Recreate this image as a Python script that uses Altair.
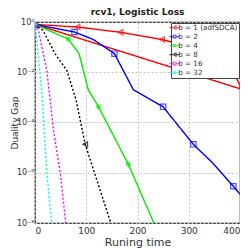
import altair as alt
import pandas as pd

series = ["b = 1 (adfSDCA)", "b = 2", "b = 4", "b = 8", "b = 16", "b = 32"]
colors = ["#ff0000", "#0000ff", "#00ee00", "#000000", "#ff00ff", "#00ffff"]
dashes = [[1, 0], [1, 0], [1, 0], [2, 2], [2, 2], [2, 2]]

# line data (time, gap) per series, in drawing order
x1 = [0, 83, 167, 248, 330, 380, 400, 400, 0]
y1 = [0.8, 0.63, 0.39, 0.2, 0.075, 0.019, 0.003, 0.0022, 0.8]
x2 = [0, 77, 114, 155, 192, 250, 309, 348, 387, 400]
y2 = [0.8, 0.4, 0.2, 0.055, 0.002, 4.2e-4, 1.35e-5, 2.3e-6, 2.9e-7, 1.4e-7]
x4 = [0, 65, 86, 104, 124, 182, 232]
y4 = [0.8, 0.21, 0.055, 0.002, 4.2e-4, 2.2e-6, 1e-8]
x8 = [0, 16, 39, 62, 80, 98, 148]
y8 = [0.8, 0.45, 0.055, 0.012, 8e-4, 1.35e-5, 1e-8]
x16 = [0, 6.5, 23, 36, 49, 60]
y16 = [0.8, 0.47, 0.012, 5e-5, 1.1e-6, 1e-8]
x32 = [0, 3, 13, 23, 32.5]
y32 = [0.8, 0.25, 0.0019, 1.1e-6, 1e-8]

# marker positions
mx1 = [0, 83, 167, 248]
my1 = [0.8, 0.63, 0.39, 0.2]
mx2 = [0, 77, 155, 250, 309, 387]
my2 = [0.8, 0.4, 0.055, 4.2e-4, 1.35e-5, 2.9e-7]
mx4 = [0, 65, 124, 182]
my4 = [0.8, 0.21, 4.2e-4, 2.2e-6]
mx8 = [0, 98]
my8 = [0.8, 1.35e-5]
mx16 = [0]
my16 = [0.8]
mx32 = [0]
my32 = [0.8]

lines = [(x1, y1), (x2, y2), (x4, y4), (x8, y8), (x16, y16), (x32, y32)]
marks = [(mx1, my1), (mx2, my2), (mx4, my4), (mx8, my8), (mx16, my16), (mx32, my32)]

rows = []
for s, (xs_, ys_) in zip(series, lines):
    for i, (a, b) in enumerate(zip(xs_, ys_)):
        rows.append({"s": s, "t": a, "g": b, "i": i})
ldf = pd.DataFrame(rows)
mrows = []
for s, (xs_, ys_) in zip(series, marks):
    for a, b in zip(xs_, ys_):
        mrows.append({"s": s, "t": a, "g": b})
mdf = pd.DataFrame(mrows)
legdf = pd.DataFrame({"s": series, "t": [-100] * 6, "g": [0.5] * 6})

ast = "M-1,0L1,0M0,-1L0,1M-0.7,-0.7L0.7,0.7M-0.7,0.7L0.7,-0.7"
tri = "M-1.9,0H-0.5M0.5,0H1.9M-0.5,0L0.5,-0.6L0.5,0.6Z"
sq = "M-1.9,0H-0.5M0.5,0H1.9M-0.5,-0.5H0.5V0.5H-0.5Z"
star = "M-1.9,0H1.9M0,-0.6L0,0.6M-0.45,-0.45L0.45,0.45M-0.45,0.45L0.45,-0.45"
msh = ["triangle-left", "square", ast, "triangle-left", "square", ast]
lsh = [tri, sq, star, tri, sq, star]

xs = alt.X("t:Q", scale=alt.Scale(domain=[0, 400], nice=False),
           axis=alt.Axis(values=[0, 100, 200, 300, 400], title="Runing time"))
ys = alt.Y("g:Q", scale=alt.Scale(type="log", domain=[1e-8, 1], nice=False),
           axis=alt.Axis(values=[1, 1e-2, 1e-4, 1e-6, 1e-8], title="Duality Gap",
                         titleX=-16, titleBaseline="bottom",
                         labelExpr="datum.value >= 0.9 ? '10⁰' : '10⁻' + ['⁰','¹','²','³','⁴','⁵','⁶','⁷','⁸','⁹'][round(-log(datum.value)/LN10)]"))

def cscale(legend=None):
    if legend is None:
        return alt.Color("s:N", scale=alt.Scale(domain=series, range=colors), legend=None)
    return alt.Color("s:N", scale=alt.Scale(domain=series, range=colors), legend=legend)

line = alt.Chart(ldf).mark_line(strokeWidth=1.4, clip=True).encode(
    x=xs, y=ys, color=cscale(),
    strokeDash=alt.StrokeDash("s:N", scale=alt.Scale(domain=series, range=dashes), legend=None),
    order="i:Q", detail="s:N")

pts = alt.Chart(mdf).mark_point(filled=False, size=28, strokeWidth=1.2, clip=True).encode(
    x=xs, y=ys, color=cscale(),
    shape=alt.Shape("s:N", scale=alt.Scale(domain=series, range=msh), legend=None),
)

leg = alt.Chart(legdf).mark_point(filled=False, strokeWidth=1.2, clip=True).encode(
    x=xs, y=ys,
    color=cscale(alt.Legend(title=None, orient="top-right", offset=1,
                            strokeColor="#444", fillColor="white",
                            padding=1, labelFontSize=7.2, labelFont="DejaVu Sans",
                            labelColor="#333", labelLimit=80,
                            symbolSize=30, symbolStrokeWidth=1.2, rowPadding=0,
                            labelOffset=0, symbolOffset=-1)),
    shape=alt.Shape("s:N", scale=alt.Scale(domain=series, range=lsh), legend=None),
)

chart = alt.layer(line, pts, leg).resolve_scale(
    shape="independent", color="independent", strokeDash="independent"
).properties(
    width=205, height=201,
    title=alt.Title("rcv1, Logistic Loss", fontSize=9, font="DejaVu Sans",
                    fontWeight="bold", offset=1, color="#222"),
    autosize=alt.AutoSizeParams(type="none"),
    padding={"left": 27, "top": 14, "right": 0, "bottom": 26},
).configure_axis(
    grid=True, gridDash=[2, 2], gridColor="#c4c4c4", domain=False, ticks=False,
    labelFont="DejaVu Sans", labelFontSize=9, labelColor="#333",
    titleFont="DejaVu Sans", titleFontSize=11, titleFontWeight="normal", titleColor="#333",
    labelPadding=3,
).configure_axisY(labelFontSize=8, labelPadding=1, titleFontSize=9).configure_axisX(titlePadding=1).configure_view(
    stroke="#222", strokeWidth=1.2)

chart.save("out.html", embed_options={"renderer": "svg", "actions": False})
